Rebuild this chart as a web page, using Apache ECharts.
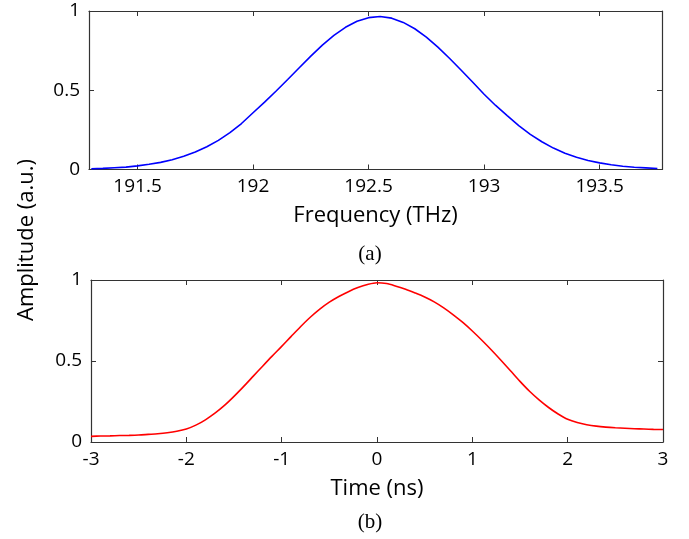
<!DOCTYPE html>
<html>
<head>
<meta charset="utf-8">
<script src="https://cdn.jsdelivr.net/npm/echarts@6/dist/echarts.min.js"></script>
<style>
  html, body { margin: 0; padding: 0; background: #fff; }
  #chart { width: 689px; height: 539px; }
</style>
</head>
<body>
<div id="chart"></div>
<script>
// (a) spectrum
const freqTHz = [
  191.30, 191.35, 191.40, 191.45, 191.50, 191.55, 191.60, 191.65, 191.70, 191.75,
  191.80, 191.85, 191.90, 191.95, 192.00, 192.05, 192.10, 192.15, 192.20, 192.25,
  192.30, 192.35, 192.40, 192.45, 192.50, 192.55, 192.60, 192.65, 192.70, 192.75,
  192.80, 192.85, 192.90, 192.95, 193.00, 193.05, 193.10, 193.15, 193.20, 193.25,
  193.30, 193.35, 193.40, 193.45, 193.50, 193.55, 193.60, 193.65, 193.70, 193.75
]
const freqAmp = [
  0.005, 0.007, 0.011, 0.015, 0.023, 0.033, 0.045, 0.062, 0.083, 0.110,
  0.144, 0.184, 0.233, 0.290, 0.358, 0.425, 0.495, 0.568, 0.642, 0.715,
  0.785, 0.846, 0.897, 0.935, 0.958, 0.965, 0.955, 0.928, 0.888, 0.835,
  0.772, 0.702, 0.628, 0.552, 0.475, 0.404, 0.340, 0.277, 0.222, 0.175,
  0.135, 0.102, 0.077, 0.057, 0.042, 0.030, 0.021, 0.014, 0.010, 0.006
]

// (b) pulse in time
const timeNs = [
  -3.0, -2.9, -2.8, -2.7, -2.6, -2.5, -2.4, -2.3, -2.2, -2.1,
  -2.0, -1.9, -1.8, -1.7, -1.6, -1.5, -1.4, -1.3, -1.2, -1.1,
  -1.0, -0.9, -0.8, -0.7, -0.6, -0.5, -0.4, -0.3, -0.2, -0.1,
  0.0, 0.1, 0.2, 0.3, 0.4, 0.5, 0.6, 0.7, 0.8, 0.9,
  1.0, 1.1, 1.2, 1.3, 1.4, 1.5, 1.6, 1.7, 1.8, 1.9,
  2.0, 2.1, 2.2, 2.3, 2.4, 2.5, 2.6, 2.7, 2.8, 2.9, 3.0
]
const timeAmp = [
  0.035, 0.037, 0.038, 0.040, 0.041, 0.043, 0.047, 0.051, 0.057, 0.066,
  0.080, 0.104, 0.137, 0.178, 0.226, 0.282, 0.342, 0.405, 0.468, 0.530,
  0.590, 0.652, 0.713, 0.770, 0.820, 0.863, 0.898, 0.928, 0.953, 0.972,
  0.983, 0.978, 0.962, 0.943, 0.920, 0.895, 0.865, 0.828, 0.785, 0.738,
  0.685, 0.628, 0.568, 0.505, 0.440, 0.374, 0.313, 0.260, 0.213, 0.173,
  0.140, 0.120, 0.107, 0.098, 0.092, 0.088, 0.085, 0.082, 0.080, 0.078, 0.077
]

const freqTicks = [191.5, 192, 192.5, 193, 193.5]
const ampTicks = [0, 0.5, 1]

const FONT = '"Open Sans", sans-serif'
const AXIS = '#333'

function frameAxis(extra) {
  return Object.assign({
    type: 'value',
    axisLine: { show: true, onZero: false, lineStyle: { color: AXIS, width: 1.2 } },
    axisTick: { show: true, inside: true, length: 5, lineStyle: { color: AXIS } },
    axisLabel: { show: false },
    splitLine: { show: false },
  }, extra)
}

const chart = echarts.init(document.getElementById('chart'), null, { renderer: 'canvas' })

chart.setOption({
  animation: false,
  backgroundColor: '#fff',
  grid: [
    { left: 89, top: 11, width: 573, height: 158.5 },
    { left: 91, top: 280, width: 572, height: 162 },
  ],
  xAxis: [
    frameAxis({
      gridIndex: 0, position: 'bottom', min: 191.29, max: 193.77,
      axisTick: { show: true, inside: true, length: 5, customValues: freqTicks, lineStyle: { color: AXIS } },
      axisLabel: { show: true, customValues: freqTicks, color: '#000', fontFamily: FONT, fontSize: 19, margin: 8 },
      name: 'Frequency (THz)', nameLocation: 'middle', nameGap: 35,
      nameTextStyle: { color: '#000', fontFamily: FONT, fontSize: 22 },
    }),
    frameAxis({
      gridIndex: 0, position: 'top', min: 191.29, max: 193.77,
      axisTick: { show: true, inside: true, length: 5, customValues: freqTicks, lineStyle: { color: AXIS } },
    }),
    frameAxis({
      gridIndex: 1, position: 'bottom', min: -3, max: 3, interval: 1,
      axisLabel: { show: true, color: '#000', fontFamily: FONT, fontSize: 19, margin: 8 },
      name: 'Time (ns)', nameLocation: 'middle', nameGap: 36,
      nameTextStyle: { color: '#000', fontFamily: FONT, fontSize: 22 },
    }),
    frameAxis({ gridIndex: 1, position: 'top', min: -3, max: 3, interval: 1 }),
  ],
  yAxis: [
    frameAxis({
      gridIndex: 0, position: 'left', min: 0, max: 1, interval: 0.5,
      axisLabel: { show: true, color: '#000', fontFamily: FONT, fontSize: 19, margin: 9,
        customValues: ampTicks },
    }),
    frameAxis({ gridIndex: 0, position: 'right', min: 0, max: 1, interval: 0.5 }),
    frameAxis({
      gridIndex: 1, position: 'left', min: 0, max: 1, interval: 0.5,
      axisLabel: { show: true, color: '#000', fontFamily: FONT, fontSize: 19, margin: 9 },
    }),
    frameAxis({ gridIndex: 1, position: 'right', min: 0, max: 1, interval: 0.5 }),
  ],
  graphic: [
    {
      type: 'text', x: 27, y: 240, rotation: Math.PI / 2,
      style: { text: 'Amplitude (a.u.)', fill: '#000', font: '22px "Open Sans", sans-serif',
        textAlign: 'center', textVerticalAlign: 'middle' },
    },
    {
      type: 'text', x: 370, y: 254,
      style: { text: '(a)', fill: '#000', font: '21px "Liberation Serif", serif',
        textAlign: 'center', textVerticalAlign: 'middle' },
    },
    {
      type: 'text', x: 370, y: 522,
      style: { text: '(b)', fill: '#000', font: '21px "Liberation Serif", serif',
        textAlign: 'center', textVerticalAlign: 'middle' },
    },
  ],
  series: [
    {
      type: 'line', xAxisIndex: 0, yAxisIndex: 0, showSymbol: false,
      data: freqTHz.map((f, i) => [f, freqAmp[i]]),
      lineStyle: { color: '#0000ff', width: 1.6 },
    },
    {
      type: 'line', xAxisIndex: 2, yAxisIndex: 2, showSymbol: false, smooth: 0.3,
      data: timeNs.map((t, i) => [t, timeAmp[i]]),
      lineStyle: { color: '#ff0000', width: 1.6 },
    },
  ],
})
</script>
</body>
</html>
